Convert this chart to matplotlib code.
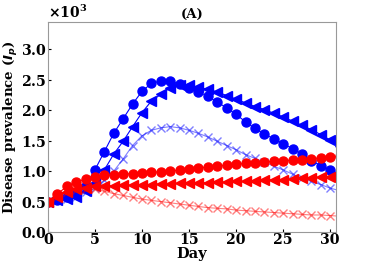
import matplotlib
matplotlib.use("Agg")
import matplotlib.pyplot as plt
import numpy as np

days = np.arange(0, 32)

# blue series
blue_circle = [500, 520, 580, 630, 750, 1020, 1320, 1620, 1860, 2100, 2310, 2440, 2480, 2480,
               2430, 2370, 2300, 2230, 2130, 2040, 1930, 1810, 1700, 1610, 1530, 1450, 1370,
               1280, 1170, 1090, 1020, 950]
blue_tri = [500, 520, 550, 580, 680, 800, 1020, 1280, 1490, 1730, 1960, 2150, 2260, 2370,
            2410, 2410, 2380, 2340, 2300, 2240, 2180, 2120, 2060, 2010, 1950, 1890, 1820,
            1750, 1680, 1600, 1510, 1420]
blue_x = [500, 520, 550, 580, 650, 720, 850, 1000, 1200, 1420, 1580, 1670, 1710, 1730,
          1710, 1670, 1620, 1560, 1490, 1420, 1350, 1270, 1210, 1150, 1080, 1020, 950,
          880, 830, 780, 720, 680]

# red series
red_circle = [500, 620, 750, 820, 870, 910, 930, 940, 950, 960, 970, 980, 990, 1000,
              1020, 1040, 1050, 1070, 1080, 1100, 1110, 1130, 1140, 1150, 1160, 1170, 1180,
              1190, 1200, 1220, 1230, 1240]
red_tri = [500, 580, 660, 700, 730, 750, 760, 760, 770, 770, 780, 780, 790, 790, 800, 800,
           810, 810, 820, 820, 830, 830, 840, 850, 860, 860, 870, 880, 890, 900, 910, 920]
red_x = [500, 580, 650, 690, 710, 700, 670, 630, 600, 570, 540, 520, 500, 480, 460, 440,
         420, 400, 390, 380, 360, 350, 340, 330, 320, 310, 300, 290, 280, 280, 270, 260]

plt.rcParams['font.family'] = 'DejaVu Serif'
plt.rcParams['font.weight'] = 'bold'

fig = plt.figure(figsize=(3.74, 2.73), dpi=100)
ax = fig.add_axes([0.128, 0.15, 0.77, 0.77])

ax.plot(days, blue_circle, color='blue', marker='o', markersize=6.5, linewidth=0.8)
ax.plot(days, blue_tri, color='blue', marker='<', markersize=6.5, linewidth=0.8)
ax.plot(days, blue_x, color='blue', marker='x', markersize=6, linewidth=0.8, alpha=0.5)
ax.plot(days, red_circle, color='red', marker='o', markersize=6.5, linewidth=0.8)
ax.plot(days, red_tri, color='red', marker='<', markersize=6.5, linewidth=0.8)
ax.plot(days, red_x, color='red', marker='x', markersize=6, linewidth=0.8, alpha=0.5)

ax.set_xlim(0, 30.6)
ax.set_ylim(0, 3450)
ax.set_xticks([0, 5, 10, 15, 20, 25, 30])
ax.set_yticks([0, 500, 1000, 1500, 2000, 2500, 3000])
ax.ticklabel_format(axis='y', style='sci', scilimits=(3, 3), useMathText=True)
ax.yaxis.get_offset_text().set_fontsize(10)
ax.yaxis.get_offset_text().set_fontweight('bold')
ax.tick_params(direction='in', length=2, labelsize=10.2, pad=1)
for lab in ax.get_xticklabels() + ax.get_yticklabels():
    lab.set_fontweight('bold')
for sp in ax.spines.values():
    sp.set_color('#999999')

ax.set_xlabel('Day', fontsize=10.5, fontweight='bold', labelpad=0)
ax.set_ylabel(r'Disease prevalence ($\mathbfit{I_p}$)', fontsize=9.6, fontweight='bold', labelpad=0.5)
ax.set_title('(A)', fontsize=9.5, fontweight='bold', pad=3)

fig.savefig('out.png', dpi=100)
